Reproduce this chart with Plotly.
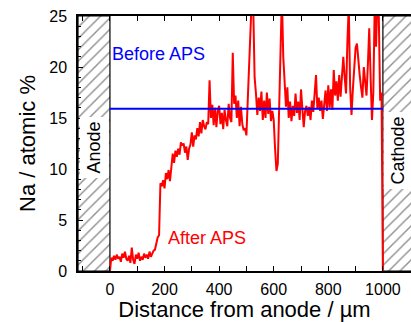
import numpy as np
import plotly.graph_objects as go

# Distance from anode (µm), 5 µm step
distance = np.arange(0, 1001, 5)
# Na atomic % after APS
na_after = [
    0.0, 1.3, 1.0, 1.5, 1.1, 1.6, 1.2, 1.4, 0.9, 1.7,
    1.3, 1.9, 1.2, 1.0, 1.5, 0.8, 2.3, 1.1, 0.7, 1.6,
    1.2, 1.8, 1.0, 1.4, 1.1, 1.7, 1.3, 1.6, 1.2, 1.9,
    1.4, 1.8, 2.0, 2.1, 2.8, 3.3, 3.5, 8.6, 8.3, 8.9,
    8.1, 9.6, 9.0, 9.9, 8.8, 10.4, 11.5, 10.6, 11.8, 11.2,
    12.0, 11.4, 12.6, 12.3, 12.5, 11.6, 12.2, 10.9, 12.0, 12.4,
    13.6, 12.2, 13.3, 12.9, 14.0, 13.2, 14.6, 13.5, 14.8, 14.2,
    13.9, 14.6, 14.4, 18.7, 15.0, 16.3, 14.3, 16.0, 14.1, 15.7,
    16.2, 14.4, 15.5, 13.9, 15.8, 14.8, 14.2, 16.4, 15.0, 14.6,
    21.4, 16.4, 17.2, 15.0, 16.7, 14.2, 16.1, 14.4, 13.8, 14.0,
    13.3, 16.8, 19.5, 23.5, 27.0, 26.0, 19.0, 17.4, 15.3, 17.0,
    15.7, 17.6, 14.8, 16.7, 15.0, 17.5, 15.4, 16.9, 14.7, 15.7,
    14.8, 12.0, 9.8, 10.5, 16.0, 22.0, 27.0, 21.0, 17.7, 16.1,
    18.0, 15.0, 16.6, 14.7, 16.2, 15.2, 17.4, 15.5, 16.6, 14.8,
    17.8, 16.1, 14.1, 15.7, 16.2, 15.2, 16.1, 14.8, 16.7, 15.6,
    17.4, 19.2, 15.9, 17.0, 15.7, 16.7, 14.9, 16.5, 17.7, 15.7,
    18.2, 16.0, 17.8, 15.8, 19.7, 17.2, 18.6, 16.7, 19.2, 17.1,
    18.8, 21.0, 19.0, 17.4, 22.5, 26.0, 18.0, 15.3, 17.8, 19.7,
    21.9, 22.3, 20.3, 19.2, 18.0, 17.0, 20.0, 18.3, 17.2, 20.2,
    23.8, 19.0, 14.8, 17.5, 26.0, 22.0, 27.0, 25.0, 16.7, 17.5,
    0.0,
]
# Na atomic % before APS (uniform level)
before_x = [0, 1000]
na_before = [15.9, 15.9]

# electrode regions (µm)
anode_region = [-117, 0]
cathode_region = [1000, 1140]
x_range = [-117, 1103]
y_range = [0, 25]

fig = go.Figure()

hatch = dict(shape="/", fgcolor="#222222", bgcolor="white", size=8, solidity=0.18)
for (x0, x1) in (anode_region, cathode_region):
    fig.add_trace(go.Scatter(
        x=[x0, x1, x1, x0, x0], y=[y_range[0], y_range[0], y_range[1], y_range[1], y_range[0]],
        mode="lines", fill="toself", fillpattern=hatch, fillcolor="white",
        line=dict(color="black", width=1.2), hoverinfo="skip", showlegend=False))

fig.add_trace(go.Scatter(x=distance, y=na_after, mode="lines",
                         line=dict(color="#ff0000", width=2), showlegend=False))
fig.add_trace(go.Scatter(x=before_x, y=na_before, mode="lines",
                         line=dict(color="#0000ff", width=2), showlegend=False))

font = "Liberation Sans, Arial, sans-serif"
fig.add_annotation(x=sum(anode_region) / 2, y=12.1, text="Anode", textangle=-90,
                   showarrow=False, bgcolor="white", borderpad=4,
                   font=dict(family=font, size=18, color="black"))
fig.add_annotation(x=1055, y=11.8, text="Cathode", textangle=-90,
                   showarrow=False, bgcolor="white", borderpad=4,
                   font=dict(family=font, size=18, color="black"))
fig.add_annotation(x=0, y=21.3, text="Before APS", showarrow=False, xanchor="left",
                   font=dict(family=font, size=18, color="#0000ff"))
fig.add_annotation(x=205, y=3.2, text="After APS", showarrow=False, xanchor="left",
                   font=dict(family=font, size=18, color="#ff0000"))

fig.update_layout(
    width=411, height=322,
    margin=dict(l=78, r=0, t=16, b=51),
    paper_bgcolor="white", plot_bgcolor="white",
    font=dict(family=font, size=16, color="black"),
    xaxis=dict(range=x_range, showgrid=False, zeroline=False,
               showline=True, linecolor="black", linewidth=1.5, mirror="ticks",
               ticks="inside", ticklen=5, tickwidth=1.2, tickcolor="black",
               tick0=0, dtick=200,
               minor=dict(dtick=100, tick0=0, ticks="inside", ticklen=5, tickwidth=1.2, tickcolor="black"),
               title=dict(text="Distance from anode / µm", font=dict(size=22), standoff=2),
               ticklabelstandoff=3),
    yaxis=dict(range=y_range, showgrid=False, zeroline=False,
               showline=True, linecolor="black", linewidth=1.5, mirror=False,
               ticks="inside", ticklen=5, tickwidth=1.2, tickcolor="black",
               tick0=0, dtick=5,
               minor=dict(dtick=1, ticks="inside", ticklen=3, tickwidth=1, tickcolor="black"),
               title=dict(text="Na / atomic %", font=dict(size=22), standoff=8),
               ticklabelstandoff=6),
)

fig.write_html("out.html")
